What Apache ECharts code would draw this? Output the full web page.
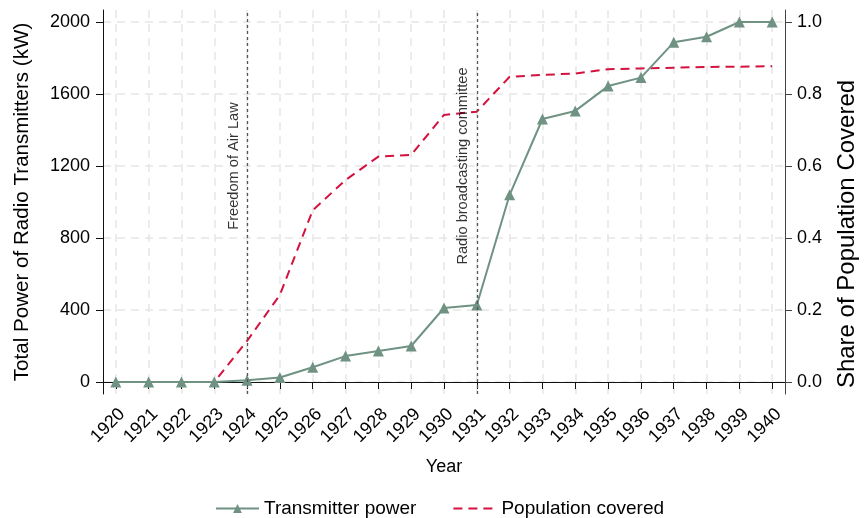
<!DOCTYPE html>
<html>
<head>
<meta charset="utf-8">
<script src="https://cdn.jsdelivr.net/npm/echarts@6/dist/echarts.min.js"></script>
<style>
  html, body { margin: 0; padding: 0; background: #fff; }
  #chart { width: 867px; height: 518px; }
</style>
</head>
<body>
<div id="chart"></div>
<script>
// Years shown on the horizontal axis
const years = [1920, 1921, 1922, 1923, 1924, 1925, 1926, 1927, 1928, 1929, 1930,
               1931, 1932, 1933, 1934, 1935, 1936, 1937, 1938, 1939, 1940];
// Total power of radio transmitters, kW
const transmitterPower = [0, 0, 0, 0, 10, 25, 82, 144, 172, 200, 411,
                          428, 1040, 1461, 1506, 1644, 1691, 1887, 1918, 2000, 2000];
// Share of the population covered by broadcasts
const populationCovered = [0, 0, 0, 0, 0.114, 0.242, 0.477, 0.561, 0.626, 0.631, 0.742,
                           0.751, 0.848, 0.853, 0.857, 0.869, 0.871, 0.873, 0.875, 0.876, 0.877];
// Tick labels on the two vertical axes
const powerTicks = [0, 400, 800, 1200, 1600, 2000];
const shareTicks = [0, 0.2, 0.4, 0.6, 0.8, 1.0];
// Policy events marked with vertical lines
const eventYears = [1924, 1931];
const eventNames = ['Freedom of Air Law', 'Radio broadcasting committee'];
const eventLabelLevel = 1200;

const FONT = '"Liberation Sans", Arial, Helvetica, sans-serif';
const GREEN = '#6f9283';
const RED = '#d4123f';

const chart = echarts.init(document.getElementById('chart'), null, { renderer: 'canvas' });

const gridDash = { color: '#e6e6e6', width: 1.5, type: [8, 6] };

chart.setOption({
  animation: false,
  textStyle: { fontFamily: FONT, color: '#000' },
  grid: { left: 103, right: 71, top: 10, bottom: 124, containLabel: false },
  legend: {
    left: 210,
    top: 494,
    itemWidth: 43,
    itemHeight: 11,
    itemGap: 36,
    textStyle: { fontFamily: FONT, fontSize: 19, color: '#000' },
    data: [
      { name: 'Transmitter power' },
      { name: 'Population covered', itemStyle: { opacity: 0 } }
    ]
  },
  xAxis: {
    type: 'value',
    min: 1919.61,
    max: 1940.39,
    name: 'Year',
    nameLocation: 'middle',
    nameGap: 64,
    nameTextStyle: { fontFamily: FONT, fontSize: 18, color: '#000' },
    axisLine: { show: true, lineStyle: { color: '#111', width: 1 } },
    axisTick: { show: true, length: 7, customValues: years, lineStyle: { color: '#111' } },
    axisLabel: {
      customValues: years, rotate: 45, margin: 11,
      verticalAlign: 'top',
      fontFamily: FONT, fontSize: 18, color: '#000',
      formatter: v => String(v)
    },
    splitLine: { show: true, lineStyle: gridDash }
  },
  yAxis: [
    {
      type: 'value',
      min: -2000 / 30,
      max: 2000 + 2000 / 30,
      name: 'Total Power of Radio Transmitters (kW)',
      nameLocation: 'middle',
      nameGap: 70,
      nameTextStyle: { fontFamily: FONT, fontSize: 20.6, color: '#000' },
      axisLine: { show: true, lineStyle: { color: '#111', width: 1 } },
      axisTick: { show: true, length: 7, customValues: powerTicks, lineStyle: { color: '#111' } },
      axisLabel: {
        customValues: powerTicks, margin: 13, fontFamily: FONT, fontSize: 18, color: '#000',
        formatter: v => String(v)
      },
      splitLine: { show: true, lineStyle: gridDash }
    },
    {
      type: 'value',
      min: -1 / 30,
      max: 1 + 1 / 30,
      position: 'right',
      name: 'Share of Population Covered',
      nameLocation: 'middle',
      nameGap: 50,
      nameTextStyle: { fontFamily: FONT, fontSize: 24, color: '#000', padding: [0, 64, 0, 0] },
      axisLine: { show: true, lineStyle: { color: '#444', width: 1 } },
      axisTick: { show: true, length: 7, customValues: shareTicks, lineStyle: { color: '#444' } },
      axisLabel: {
        customValues: shareTicks, margin: 12, fontFamily: FONT, fontSize: 18, color: '#000',
        formatter: v => v.toFixed(1)
      },
      splitLine: { show: false }
    }
  ],
  series: [
    {
      name: 'Transmitter power',
      type: 'line',
      yAxisIndex: 0,
      data: years.map((y, i) => [y, transmitterPower[i]]),
      symbol: 'triangle',
      symbolSize: 11,
      itemStyle: { color: GREEN },
      lineStyle: { color: GREEN, width: 2 },
      z: 3,
      markLine: {
        silent: true,
        symbol: 'none',
        label: { show: false },
        lineStyle: { color: '#555', width: 1.3, type: [3, 3] },
        data: eventYears.map(y => ({ xAxis: y }))
      }
    },
    {
      name: 'Population covered',
      type: 'line',
      yAxisIndex: 1,
      data: years.map((y, i) => [y, populationCovered[i]]),
      symbol: 'none',
      itemStyle: { color: RED },
      lineStyle: { color: RED, width: 2, type: [9, 6] },
      z: 2
    },
    {
      name: 'events',
      type: 'scatter',
      yAxisIndex: 0,
      silent: true,
      symbolSize: 0,
      data: eventYears.map((y, i) => ({ value: [y, eventLabelLevel], name: eventNames[i] })),
      label: {
        show: true,
        position: 'left',
        distance: 6,
        rotate: 90,
        align: 'center',
        verticalAlign: 'bottom',
        fontFamily: FONT,
        fontSize: 14.6,
        color: '#000',
        formatter: p => p.name
      }
    }
  ]
});
</script>
</body>
</html>
